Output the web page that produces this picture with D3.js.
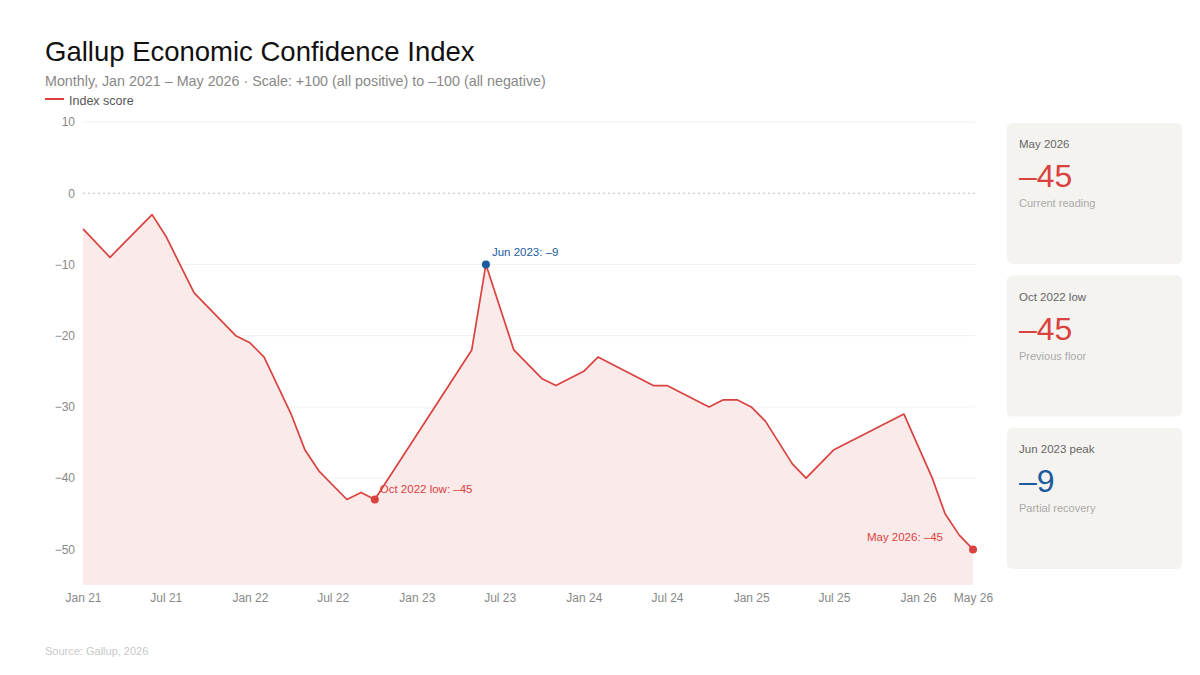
<!DOCTYPE html>
<html>
<head>
<meta charset="utf-8">
<script src="https://cdn.jsdelivr.net/npm/d3@7/dist/d3.min.js"></script>
<style>
 body {margin:0; background:#fff;}
 svg {font-family: 'Liberation Sans', Arial, Helvetica, sans-serif;}
 .tick text {fill:#888; font-size:12px;}
</style>
</head>
<body>
<svg width="1200" height="675"></svg>
<script>

// monthly readings (only the months visible as vertices in the line)
const months = ['2021-01','2021-03','2021-06','2021-07','2021-09','2021-12',
 '2022-01','2022-02','2022-04','2022-05','2022-06','2022-08','2022-09','2022-10',
 '2023-05','2023-06','2023-08','2023-10','2023-11',
 '2024-01','2024-02','2024-06','2024-07','2024-10','2024-11','2024-12',
 '2025-01','2025-02','2025-04','2025-05','2025-07','2025-12',
 '2026-02','2026-03','2026-04','2026-05'];
const scores = [-5,-9,-3,-6,-14,-20,
 -21,-23,-31,-36,-39,-43,-42,-43,
 -22,-10,-22,-26,-27,
 -25,-23,-27,-27,-30,-29,-29,
 -30,-32,-38,-40,-36,-31,
 -40,-45,-48,-50];

const yTicks = [10,0,-10,-20,-30,-40,-50];
const xTickMonths = ['2021-01','2021-07','2022-01','2022-07','2023-01','2023-07',
 '2024-01','2024-07','2025-01','2025-07','2026-01','2026-05'];

// highlighted points
const marks = [
 {month:'2022-10', label:'Oct 2022 low: –45', color:'#d9423e', dx:5, dy:-7, anchor:'start'},
 {month:'2023-06', label:'Jun 2023: –9', color:'#1c5aa0', dx:6, dy:-8, anchor:'start'},
 {month:'2026-05', label:'May 2026: –45', color:'#d9423e', dx:-30, dy:-8, anchor:'end'}
];

// side cards
const cardTitles = ['May 2026','Oct 2022 low','Jun 2023 peak'];
const cardValues = ['–45','–45','–9'];
const cardNotes = ['Current reading','Previous floor','Partial recovery'];
const cardColors = ['#d9423e','#d9423e','#1c5aa0'];

const parse = d3.timeParse('%Y-%m');
const data = months.map((m,i) => ({date: parse(m), v: scores[i]}));

const svg = d3.select('svg');
const red = '#d9423e';

const x = d3.scaleTime().domain([parse('2021-01'), parse('2026-05')]).range([83, 973]);
const y = d3.scaleLinear().domain([-55, 10]).range([585, 122]);

// title block
svg.append('text').attr('x',45).attr('y',61).text('Gallup Economic Confidence Index')
 .attr('font-size',27.5).attr('fill','#111');
svg.append('text').attr('x',45).attr('y',86)
 .text('Monthly, Jan 2021 – May 2026 · Scale: +100 (all positive) to –100 (all negative)')
 .attr('font-size',14.3).attr('fill','#888');
svg.append('line').attr('x1',45).attr('x2',64).attr('y1',99).attr('y2',99)
 .attr('stroke',red).attr('stroke-width',2);
svg.append('text').attr('x',69).attr('y',105).text('Index score')
 .attr('font-size',12.5).attr('fill','#555');

// grid
const grid = svg.append('g');
grid.selectAll('line').data(yTicks).enter().append('line')
 .attr('x1',83).attr('x2',975)
 .attr('y1',d => y(d)).attr('y2',d => y(d))
 .attr('stroke', d => d === 0 ? '#bbb' : '#f1f1f1')
 .attr('stroke-dasharray', d => d === 0 ? '2,3' : null);

// y axis labels
svg.append('g')
 .attr('transform','translate(75,0)')
 .call(d3.axisLeft(y).tickValues(yTicks).tickSize(0).tickPadding(0)
  .tickFormat(d => d < 0 ? '−' + Math.abs(d) : d))
 .call(g => g.select('.domain').remove());

// x axis labels
svg.append('g')
 .attr('transform','translate(0,585)')
 .call(d3.axisBottom(x).tickValues(xTickMonths.map(parse)).tickSize(0).tickPadding(8)
  .tickFormat(d3.timeFormat('%b %y')))
 .call(g => g.select('.domain').remove());

// area + line
svg.append('path').datum(data)
 .attr('d', d3.area().x(d => x(d.date)).y0(y(-55)).y1(d => y(d.v)))
 .attr('fill','#fbeaea');
svg.append('path').datum(data)
 .attr('d', d3.line().x(d => x(d.date)).y(d => y(d.v)))
 .attr('fill','none').attr('stroke',red).attr('stroke-width',1.7)
 .attr('stroke-linejoin','round');

// highlighted points
marks.forEach(m => {
 const p = data.find(d => +d.date === +parse(m.month));
 svg.append('circle').attr('cx',x(p.date)).attr('cy',y(p.v)).attr('r',4).attr('fill',m.color);
 svg.append('text').attr('x',x(p.date)+m.dx).attr('y',y(p.v)+m.dy)
  .attr('text-anchor',m.anchor).attr('font-size',11.5).attr('fill',m.color).text(m.label);
});

// cards
const cards = svg.selectAll('.card').data(cardTitles).enter().append('g')
 .attr('class','card')
 .attr('transform',(d,i) => 'translate(1007,' + (123 + i*152.5) + ')');
cards.append('rect').attr('width',175).attr('height',141).attr('rx',5).attr('fill','#f4f3f0');
cards.append('text').attr('x',12).attr('y',25).attr('font-size',11.5).attr('fill','#666').text(d => d);
cards.append('text').attr('x',12).attr('y',64).attr('font-size',32)
 .attr('fill',(d,i) => cardColors[i]).text((d,i) => cardValues[i]);
cards.append('text').attr('x',12).attr('y',84).attr('font-size',11).attr('fill','#aaa')
 .text((d,i) => cardNotes[i]);

svg.append('text').attr('x',45).attr('y',655).text('Source: Gallup, 2026')
 .attr('font-size',11).attr('fill','#c8c8c8');

</script>
</body>
</html>
